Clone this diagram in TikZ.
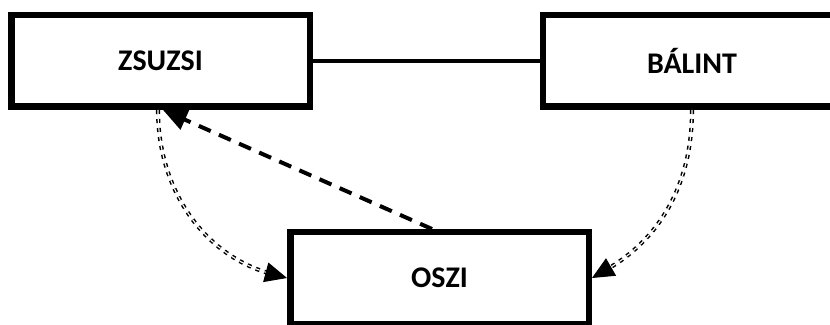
\documentclass[tikz,border=0pt]{standalone}
\usepackage{fontspec}
\setmainfont{Carlito}
\usetikzlibrary{arrows.meta}
\tikzset{
  box/.style={draw, line width=6.5pt, minimum width=298.5pt, minimum height=91.5pt,
    inner sep=0pt, font=\fontsize{30}{36}\selectfont\bfseries},
  dbl/.style={draw=black, line width=1.5pt, double=white, double distance=1.1pt,
    dash pattern=on 4pt off 5pt},
  tiponly/.style={-{Triangle[length=22pt,width=20pt]}, line width=1pt,
    dash pattern=on 0pt off 2000pt},
  dashedarrow/.style={line width=4pt, dash pattern=on 13pt off 9pt,
    -{Triangle[length=24pt,width=21pt]}},
}
\begin{document}
\begin{tikzpicture}[x=1pt,y=1pt]
\useasboundingbox (0,0) rectangle (830,324);
\node[box] (Z) at (160.5,263) {ZSUZSI};
\node[box] (B) at (692,263) {BÁLINT};
\node[box] (O) at (439.5,46) {OSZI};
\draw[line width=4pt] (Z.east) -- (B.west);
\coordinate (zl) at ([xshift=-2.5pt]Z.south);
\coordinate (zr) at ([xshift=2.5pt]Z.south);
\coordinate (on) at ([xshift=-7.5pt]O.north);
\draw[dashedarrow] (on) -- (zr);
\draw[dbl, shorten >=17pt] (zl) to[out=-90,in=165] (O.west);
\draw[tiponly] (zl) to[out=-90,in=165] (O.west);
\draw[dbl, shorten >=17pt] (B.south) to[out=-90,in=30] (O.east);
\draw[tiponly] (B.south) to[out=-90,in=30] (O.east);
\end{tikzpicture}
\end{document}
